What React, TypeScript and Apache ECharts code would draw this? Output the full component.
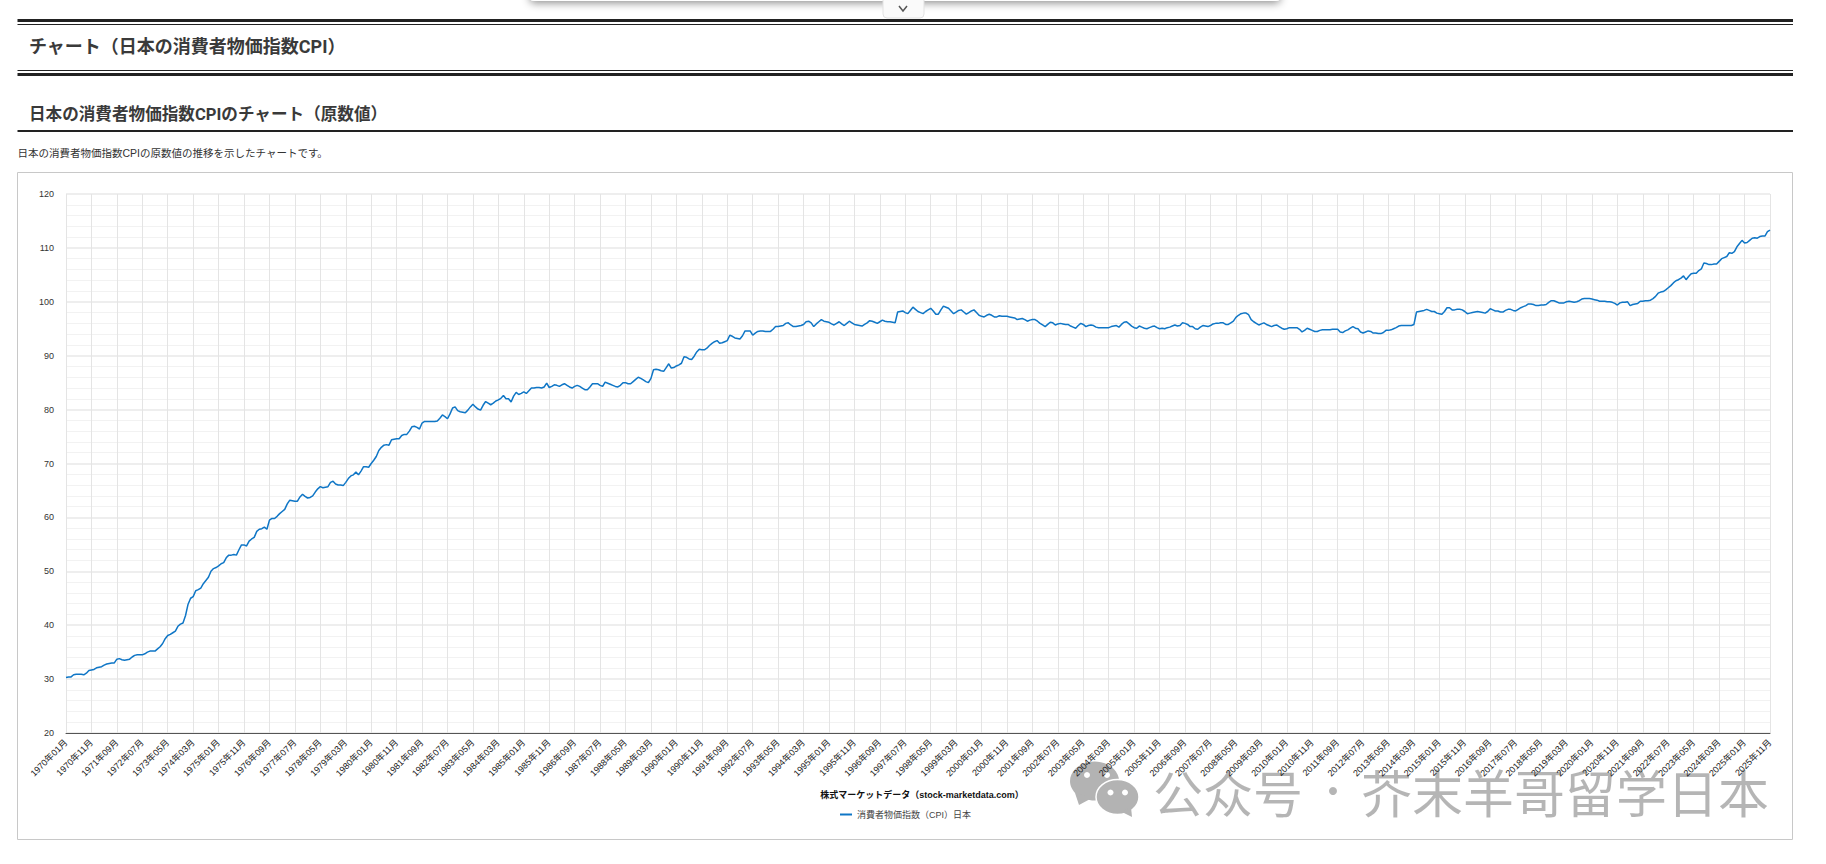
import React, { useEffect, useRef } from "react";
import * as echarts from "echarts";

const y1970 = [30.3,30.4,30.4,30.8,30.9,30.9,30.9,30.8,31.1,31.6,31.7,31.8];
const y1971 = [32.1,32.2,32.3,32.6,32.8,32.9,33.0,33.0,33.7,33.8,33.6,33.5];
const y1972 = [33.6,33.7,34.1,34.4,34.5,34.5,34.5,34.7,35.0,35.2,35.2,35.2];
const y1973 = [35.6,36.0,36.6,37.5,38.1,38.3,38.6,38.9,39.8,40.2,40.4,41.8];
const y1974 = [43.9,45.0,45.3,46.4,46.6,46.9,47.7,48.3,48.9,50.0,50.5,50.7];
const y1975 = [51.0,51.4,51.6,52.5,53.0,53.0,53.1,53.0,54.0,54.9,54.9,54.7];
const y1976 = [55.6,56.0,56.3,57.4,57.8,57.9,58.2,57.8,59.5,59.8,59.8,60.2];
const y1977 = [60.7,61.1,61.5,62.5,63.2,63.1,63.0,63.0,63.8,64.3,63.9,63.6];
const y1978 = [63.7,64.0,64.7,65.3,65.7,65.5,65.6,65.7,66.5,66.7,66.2,66.0];
const y1979 = [66.0,65.9,66.5,67.2,67.7,67.9,68.4,67.9,68.6,69.4,69.4,69.3];
const y1980 = [70.0,70.6,71.3,72.4,73.0,73.4,73.5,73.4,74.4,74.5,74.6,74.6];
const y1981 = [75.2,75.4,75.4,76.0,76.8,76.9,76.7,76.4,77.5,77.8,77.8,77.8];
const y1982 = [77.8,77.8,77.9,78.4,79.0,78.7,78.3,79.2,80.3,80.5,79.8,79.6];
const y1983 = [79.5,79.4,79.9,80.5,81.0,80.5,80.1,79.9,80.8,81.5,81.2,80.9];
const y1984 = [81.2,81.6,81.8,82.1,82.6,82.0,82.0,81.4,82.5,83.2,82.8,83.0];
const y1985 = [83.3,83.0,83.5,84.0,84.0,84.1,84.1,84.0,84.2,84.9,84.1,84.3];
const y1986 = [84.6,84.5,84.3,84.6,84.8,84.5,84.2,84.0,84.3,84.5,84.3,84.0];
const y1987 = [83.7,83.7,84.2,84.8,84.8,84.8,84.5,84.3,85.1,84.9,84.7,84.5];
const y1988 = [84.3,84.2,84.5,85.0,85.0,84.8,84.8,85.2,85.6,86.0,85.8,85.5];
const y1989 = [85.2,85.0,85.8,87.4,87.5,87.4,87.2,87.1,87.8,88.5,87.7,87.8];
const y1990 = [88.1,88.3,88.6,89.8,89.7,89.4,89.3,89.9,90.7,91.2,91.1,91.1];
const y1991 = [91.4,91.9,92.3,92.6,92.8,92.3,92.4,92.6,92.8,93.8,93.6,93.3];
const y1992 = [93.2,93.1,93.7,94.6,94.6,94.6,93.8,94.2,94.5,94.6,94.6,94.5];
const y1993 = [94.5,94.5,94.9,95.4,95.4,95.5,95.6,96.0,96.1,95.7,95.4,95.4];
const y1994 = [95.5,95.6,95.8,96.3,96.4,96.1,95.4,95.9,96.3,96.7,96.4,96.3];
const y1995 = [96.2,95.9,95.7,96.0,96.3,95.9,95.6,96.0,96.4,96.1,95.8,95.7];
const y1996 = [95.6,95.5,95.8,96.1,96.5,96.4,96.2,96.0,96.3,96.6,96.4,96.3];
const y1997 = [96.3,96.2,96.1,98.1,98.2,98.3,98.0,97.8,98.4,99.0,98.6,98.2];
const y1998 = [98.0,97.8,98.2,98.5,98.8,98.3,97.7,97.7,98.5,99.2,99.0,98.8];
const y1999 = [98.3,97.8,98.1,98.4,98.5,98.1,97.7,98.0,98.3,98.5,98.0,97.5];
const y2000 = [97.3,97.2,97.5,97.7,97.5,97.2,97.2,97.4,97.3,97.3,97.3,97.2];
const y2001 = [97.1,97.0,96.7,96.8,96.9,96.7,96.4,96.6,96.7,96.7,96.4,96.0];
const y2002 = [95.7,95.4,95.8,96.2,96.1,95.7,95.9,96.0,95.9,95.8,95.8,95.5];
const y2003 = [95.3,95.1,95.6,96.0,95.8,95.4,95.6,95.7,95.6,95.3,95.2,95.2];
const y2004 = [95.2,95.2,95.2,95.4,95.5,95.6,95.3,95.8,96.2,96.3,95.9,95.5];
const y2005 = [95.2,95.1,95.5,95.3,95.1,95.0,95.2,95.4,95.5,95.2,95.0,95.1];
const y2006 = [95.0,95.2,95.3,95.5,95.7,95.5,95.6,96.1,96.0,95.8,95.4,95.4];
const y2007 = [95.0,94.9,95.3,95.6,95.5,95.4,95.6,95.9,96.0,96.0,96.1,96.1];
const y2008 = [95.8,95.8,96.1,96.4,97.1,97.5,97.8,97.9,97.9,97.6,96.7,96.3];
const y2009 = [96.0,95.7,95.9,96.1,95.8,95.6,95.4,95.6,95.7,95.4,95.1,94.9];
const y2010 = [95.0,95.2,95.2,95.2,95.2,94.9,94.4,94.7,95.1,94.9,94.7,94.5];
const y2011 = [94.5,94.7,94.8,94.8,94.8,94.8,94.9,94.9,94.9,94.4,94.3,94.6];
const y2012 = [94.8,95.1,95.4,95.1,95.0,94.4,94.2,94.4,94.6,94.5,94.2,94.2];
const y2013 = [94.1,94.1,94.3,94.7,94.7,94.8,95.0,95.2,95.5,95.6,95.6,95.6];
const y2014 = [95.6,95.6,95.8,98.1,98.2,98.3,98.4,98.6,98.4,98.2,98.2,97.9];
const y2015 = [97.8,97.7,98.2,98.9,98.9,98.5,98.5,98.6,98.6,98.5,98.2,97.8];
const y2016 = [97.9,98.0,98.1,98.2,98.1,98.0,97.9,98.2,98.7,98.5,98.3,98.3];
const y2017 = [98.1,98.1,98.4,98.6,98.6,98.4,98.3,98.6,98.9,99.1,99.3,99.6];
const y2018 = [99.6,99.5,99.3,99.3,99.4,99.4,99.5,99.9,100.2,100.2,100.0,99.8];
const y2019 = [99.8,99.8,100.0,100.1,100.0,99.9,100.0,100.2,100.5,100.6,100.6,100.6];
const y2020 = [100.5,100.4,100.3,100.1,100.1,100.1,100.0,100.0,99.9,99.7,99.4,99.8];
const y2021 = [99.9,99.9,100.0,99.3,99.5,99.6,99.7,100.1,100.1,100.2,100.2,100.3];
const y2022 = [100.6,101.0,101.6,101.8,101.9,102.2,102.6,103.0,103.5,103.9,104.1,104.4];
const y2023 = [104.8,104.1,104.7,105.2,105.3,105.3,105.8,106.1,107.2,107.1,106.9,106.9];
const y2024 = [107.0,107.0,107.5,108.0,108.2,108.4,109.1,109.0,109.3,110.2,110.8,111.4];
const y2025 = [110.9,111.0,111.4,111.8,111.9,111.8,112.1,112.2,112.2,113.0,113.3];

const years = [
  y1970,y1971,y1972,y1973,y1974,y1975,y1976,y1977,y1978,y1979,
  y1980,y1981,y1982,y1983,y1984,y1985,y1986,y1987,y1988,y1989,
  y1990,y1991,y1992,y1993,y1994,y1995,y1996,y1997,y1998,y1999,
  y2000,y2001,y2002,y2003,y2004,y2005,y2006,y2007,y2008,y2009,
  y2010,y2011,y2012,y2013,y2014,y2015,y2016,y2017,y2018,y2019,
  y2020,y2021,y2022,y2023,y2024,y2025,
];
const firstYear = 1970;
const cpi = years.flat();
const months = years.flatMap((ys, i) =>
  ys.map((_, m) => `${firstYear + i}年${String(m + 1).padStart(2, "0")}月`)
);

const pageTitle = "チャート（日本の消費者物価指数CPI）";
const chartHeading = "日本の消費者物価指数CPIのチャート（原数値）";
const description = "日本の消費者物価指数CPIの原数値の推移を示したチャートです。";
const chartTitle = "株式マーケットデータ（stock-marketdata.com）";
const seriesName = "消費者物価指数（CPI）日本";

const CJK = '"Liberation Sans", "Noto Sans CJK JP", sans-serif';
const HEAD = 'Roboto, "Noto Sans CJK JP", sans-serif';
const WM = "rgba(0,0,0,0.29)";

const hline = (y: number, h: number, color = "#222") => ({
  type: "rect", shape: { x: 17.5, y, width: 1775.5, height: h }, style: { fill: color }, silent: true,
});
const txt = (x: number, y: number, text: string, font: string, fill: string, extra: any = {}) => ({
  type: "text", x, y, silent: true,
  style: { text, font, fill, textVerticalAlign: "middle", textBaseline: "middle", ...extra },
});

export default function App() {
  const ref = useRef<HTMLDivElement>(null);
  useEffect(() => {
    const chart = echarts.init(ref.current!, null, { renderer: "svg" });
    chart.setOption({
      animation: false,
      backgroundColor: "#fff",
      title: {
        text: chartTitle, left: 917, top: 785, textAlign: "center",
        textStyle: { fontSize: 9, fontWeight: "bold", color: "#111", fontFamily: CJK },
      },
      legend: {
        data: [seriesName], left: 840, top: 810, itemWidth: 12, itemHeight: 2, itemGap: 4,
        icon: "rect", padding: 0,
        textStyle: { fontSize: 9, color: "#444", fontFamily: CJK, padding: [0, 0, 0, 0] },
      },
      grid: { left: 66, right: 56, top: 194, bottom: 131, containLabel: false },
      xAxis: {
        type: "category", data: months, boundaryGap: false,
        axisLine: { show: true, lineStyle: { color: "#555", width: 1 } },
        axisTick: { show: false },
        axisLabel: {
          interval: 9, rotate: 45, fontSize: 9, color: "#222", margin: 8,
          fontFamily: CJK, hideOverlap: false, showMaxLabel: true,
        },
        splitLine: { show: true, interval: 9, lineStyle: { color: "#e4e4e4", width: 1 } },
      },
      yAxis: {
        type: "value", min: 20, max: 120, interval: 10,
        axisLine: { show: false }, axisTick: { show: false },
        axisLabel: { fontSize: 9, color: "#333", margin: 12, fontFamily: CJK },
        splitLine: { show: true, lineStyle: { color: "#e8e8e8", width: 1.5 } },
        minorTick: { show: false, splitNumber: 5 },
        minorSplitLine: { show: true, lineStyle: { color: "#f2f2f2", width: 1 } },
      },
      series: [{
        name: seriesName, type: "line", data: cpi, showSymbol: false, symbol: "none",
        lineStyle: { color: "#0f76c6", width: 1.5 }, itemStyle: { color: "#0f76c6" },
      }],
      graphic: [
        { type: "rect", shape: { x: 530, y: -20, width: 750, height: 21, r: 4 }, silent: true,
          style: { fill: "#fff", shadowBlur: 8, shadowColor: "rgba(0,0,0,0.45)", shadowOffsetY: 2 } },
        { type: "rect", shape: { x: 883, y: -4, width: 41, height: 22, r: 4 }, silent: true,
          style: { fill: "#fafafa", stroke: "#e2e2e2", lineWidth: 1 } },
        { type: "polyline", shape: { points: [[899, 6], [903, 11], [907, 6]] }, silent: true,
          style: { stroke: "#555", lineWidth: 1.5, fill: "none" } },
        hline(19, 3), hline(24, 1),
        hline(70, 1), hline(73, 3),
        hline(130, 2),
        txt(29, 46, pageTitle, `bold 18px ${HEAD}`, "#3a3a3a"),
        txt(29, 114, chartHeading, `bold 16.6px ${HEAD}`, "#3a3a3a"),
        txt(17.5, 152.5, description, `10.5px ${CJK}`, "#333"),
        { type: "rect", shape: { x: 17.5, y: 172.5, width: 1775, height: 667 }, silent: true,
          style: { fill: "none", stroke: "#c8c8c8", lineWidth: 1 } },
        { type: "ellipse", shape: { cx: 1094.5, cy: 781, rx: 24.5, ry: 19.5 }, silent: true, style: { fill: "#b3b3b3" } },
        { type: "polygon", shape: { points: [[1075, 793], [1079, 805], [1092, 798]] }, silent: true, style: { fill: "#b3b3b3" } },
        { type: "circle", shape: { cx: 1087, cy: 775, r: 3 }, silent: true, style: { fill: "#fff" } },
        { type: "circle", shape: { cx: 1107, cy: 775, r: 3 }, silent: true, style: { fill: "#fff" } },
        { type: "ellipse", shape: { cx: 1117.5, cy: 797, rx: 21.5, ry: 17.5 }, silent: true,
          style: { fill: "#b3b3b3", stroke: "#fff", lineWidth: 1.5 } },
        { type: "polygon", shape: { points: [[1122, 812], [1132, 817], [1131, 807]] }, silent: true, style: { fill: "#b3b3b3" } },
        { type: "circle", shape: { cx: 1110.5, cy: 792.5, r: 3 }, silent: true, style: { fill: "#fff" } },
        { type: "circle", shape: { cx: 1125, cy: 792.5, r: 3 }, silent: true, style: { fill: "#fff" } },
        txt(1153, 791, "公众号", `50px "Noto Sans CJK SC"`, WM),
        { type: "circle", shape: { cx: 1333, cy: 791, r: 4 }, silent: true, style: { fill: WM } },
        txt(1361, 791, "芥末羊哥留学日本", `51px "Noto Sans CJK SC"`, WM),
      ],
    });
    return () => chart.dispose();
  }, []);
  return <div ref={ref} style={{ position: "fixed", left: 0, top: 0, width: 1826, height: 864 }} />;
}
